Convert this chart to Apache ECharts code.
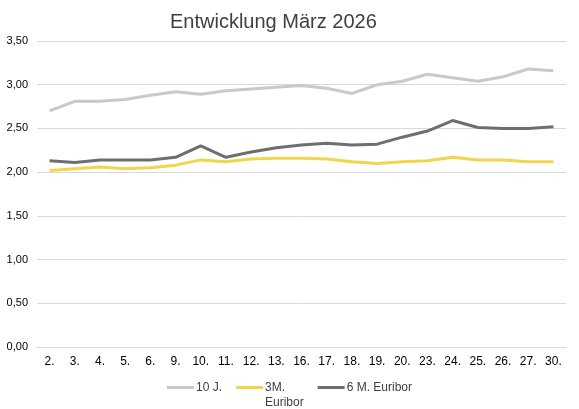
<!DOCTYPE html>
<html>
<head>
<meta charset="utf-8">
<script src="https://cdn.jsdelivr.net/npm/echarts@6/dist/echarts.min.js"></script>
<style>
html, body { margin: 0; padding: 0; background: #fff; }
#chart { width: 579px; height: 409px; }
</style>
</head>
<body>
<div id="chart"></div>
<script>
var days = ['2.', '3.', '4.', '5.', '6.', '9.', '10.', '11.', '12.', '13.', '16.', '17.', '18.', '19.', '20.', '23.', '24.', '25.', '26.', '27.', '30.'];
var zehnJahre = [2.70, 2.81, 2.81, 2.83, 2.88, 2.92, 2.89, 2.93, 2.95, 2.97, 2.99, 2.96, 2.90, 3.00, 3.04, 3.12, 3.08, 3.04, 3.09, 3.18, 3.16];
var euribor3M = [2.02, 2.04, 2.06, 2.04, 2.05, 2.08, 2.14, 2.12, 2.15, 2.16, 2.16, 2.15, 2.12, 2.10, 2.12, 2.13, 2.17, 2.14, 2.14, 2.12, 2.12];
var euribor6M = [2.13, 2.11, 2.14, 2.14, 2.14, 2.17, 2.30, 2.17, 2.23, 2.28, 2.31, 2.33, 2.31, 2.32, 2.40, 2.47, 2.59, 2.51, 2.50, 2.50, 2.52];

var chart = echarts.init(document.getElementById('chart'));

var lineSeries = function (name, data, color) {
    return {
        name: name,
        type: 'line',
        data: data,
        symbol: 'none',
        smooth: false,
        lineStyle: { width: 3, color: color },
        itemStyle: { color: color }
    };
};

var option = {
    animation: false,
    textStyle: { fontFamily: 'Liberation Sans, Arial, sans-serif' },
    title: {
        text: 'Entwicklung März 2026',
        left: 165,
        top: 7,
        textStyle: { fontSize: 20, fontWeight: 'normal', color: '#404040' }
    },
    grid: { left: 37, right: 13, top: 41, bottom: 62 },
    xAxis: {
        type: 'category',
        data: days,
        boundaryGap: true,
        axisLine: { lineStyle: { color: '#d9d9d9' } },
        axisTick: { show: false },
        axisLabel: { color: '#000', fontSize: 12, margin: 9, interval: 0 }
    },
    yAxis: {
        type: 'value',
        min: 0,
        max: 3.5,
        interval: 0.5,
        axisLine: { show: false },
        axisTick: { show: false },
        splitLine: { lineStyle: { color: '#d9d9d9' } },
        axisLabel: {
            color: '#000',
            fontSize: 11,
            margin: 9,
            formatter: function (v) { return v.toFixed(2).replace('.', ','); }
        }
    },
    legend: {
        top: 360,
        left: 'center',
        icon: 'rect',
        itemWidth: 27,
        itemHeight: 3,
        itemGap: 14,
        textStyle: { color: '#404040', fontSize: 12, lineHeight: 15, padding: [0, 0, 0, -3] },
        // leere erste Zeile, damit die erste Textzeile auf Höhe der Linie steht
        formatter: function (name) {
            return name.indexOf('\n') >= 0 ? ' \n' + name : name;
        },
        data: ['10 J.', '3M.\nEuribor', '6 M. Euribor']
    },
    series: [
        lineSeries('10 J.', zehnJahre, '#c9c9c9'),
        lineSeries('3M.\nEuribor', euribor3M, '#f2d54a'),
        lineSeries('6 M. Euribor', euribor6M, '#6e6e6e')
    ]
};

chart.setOption(option);
window.onresize = function () { chart.resize(); };
</script>
</body>
</html>
